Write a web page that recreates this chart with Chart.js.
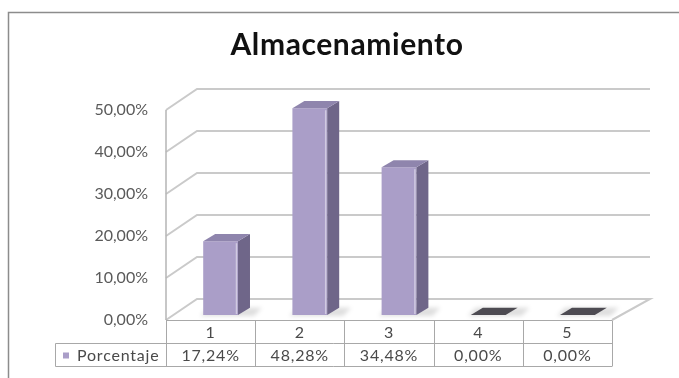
<!DOCTYPE html>
<html>
<head>
<meta charset="utf-8">
<title>Almacenamiento</title>
<script src="https://cdn.jsdelivr.net/npm/chart.js@4.4.1/dist/chart.umd.min.js"></script>
<style>
  html, body { margin: 0; padding: 0; background: #fff; }
</style>
</head>
<body>
<canvas id="almacen-chart" width="679" height="378"></canvas>
<script>
const categories = ['1', '2', '3', '4', '5'];
const porcentaje = [0.1724, 0.4828, 0.3448, 0, 0];
const yTicks = [0, 0.1, 0.2, 0.3, 0.4, 0.5];
const seriesName = 'Porcentaje';
const chartTitle = 'Almacenamiento';

const FONT = 'Lato, "Open Sans", sans-serif';
const BAR_FRONT = '#aa9ec8';
const BAR_SIDE = '#6f6689';
const BAR_TOP = '#8f85ad';

function pct(v) {
  return (v * 100).toFixed(2).replace('.', ',') + '%';
}

function line(ctx, x1, y1, x2, y2) {
  ctx.beginPath();
  ctx.moveTo(x1, y1);
  ctx.lineTo(x2, y2);
  ctx.stroke();
}

// outer frame and title
const frame = {
  id: 'frame',
  beforeDraw(chart) {
    const ctx = chart.ctx;
    ctx.save();
    ctx.fillStyle = '#fff';
    ctx.fillRect(0, 0, chart.width, chart.height);
    ctx.strokeStyle = '#8c8c8c';
    ctx.lineWidth = 1.5;
    ctx.beginPath();
    ctx.moveTo(8.5, chart.height);
    ctx.lineTo(8.5, 12.5);
    ctx.lineTo(chart.width, 12.5);
    ctx.stroke();
    ctx.fillStyle = '#111';
    ctx.font = 'bold 30px ' + FONT;
    ctx.letterSpacing = '0.6px';
    ctx.textAlign = 'center';
    ctx.textBaseline = 'middle';
    ctx.fillText(chartTitle, 347, 45);
    ctx.restore();
  }
};

// walls, floor and the depth faces of the columns
const scene3d = {
  id: 'scene3d',
  beforeDatasetsDraw(chart) {
    const { ctx, chartArea: a, scales: { y } } = chart;
    const backL = a.left + 31, backR = a.right + 38, dy = 21;
    ctx.save();
    ctx.strokeStyle = '#cacaca';
    ctx.lineWidth = 2;
    yTicks.forEach(v => {
      const py = y.getPixelForValue(v);
      ctx.beginPath();
      ctx.moveTo(a.left, py);
      ctx.lineTo(backL, py - dy);
      ctx.lineTo(backR, py - dy);
      if (v === 0) ctx.lineTo(a.right, py);
      ctx.stroke();
    });
    ctx.strokeStyle = '#b4b4b4';
    ctx.lineWidth = 1.5;
    line(ctx, a.left, y.getPixelForValue(0.5), a.left, a.bottom);
    ctx.restore();

    // columns stand halfway into the floor
    ctx.save();
    ctx.translate(10, a.bottom - 5);
    ctx.scale(1, 1.02);
    ctx.translate(0, -a.bottom);

    // soft floor shadows
    ctx.filter = 'blur(2px)';
    ctx.fillStyle = 'rgba(0,0,0,0.13)';
    chart.getDatasetMeta(0).data.forEach(bar => {
      const l = bar.x - bar.width / 2 - 3, r = bar.x + bar.width / 2 + 16, b = bar.base + 1;
      ctx.beginPath();
      ctx.moveTo(l, b);
      ctx.lineTo(r, b);
      ctx.lineTo(r + 8, b - 8);
      ctx.lineTo(l + 8, b - 8);
      ctx.closePath();
      ctx.fill();
    });
    ctx.filter = 'none';
  },
  afterDatasetsDraw(chart) {
    const ctx = chart.ctx;
    const sx = 12, sy = 7;
    chart.getDatasetMeta(0).data.forEach(bar => {
      const l = bar.x - bar.width / 2, r = bar.x + bar.width / 2;
      const t = bar.y, b = bar.base;
      const flat = b - t < 0.5;
      if (!flat) {
        ctx.fillStyle = BAR_SIDE;
        ctx.beginPath();
        ctx.moveTo(r, t);
        ctx.lineTo(r + sx, t - sy);
        ctx.lineTo(r + sx, b - sy);
        ctx.lineTo(r, b);
        ctx.closePath();
        ctx.fill();
        // light bevel on the front edge
        ctx.strokeStyle = 'rgba(255,255,255,0.45)';
        ctx.lineWidth = 1.5;
        line(ctx, r - 1.5, t + 2, r - 1.5, b - 1);
      }
      ctx.fillStyle = flat ? '#4d4b52' : BAR_TOP;
      ctx.beginPath();
      ctx.moveTo(l, t);
      ctx.lineTo(l + sx, t - sy);
      ctx.lineTo(r + sx, t - sy);
      ctx.lineTo(r, t);
      ctx.closePath();
      ctx.fill();
    });
    ctx.restore();
  }
};

// data table under the floor
const dataTable = {
  id: 'dataTable',
  afterDraw(chart) {
    const { ctx, chartArea: a, scales: { x } } = chart;
    const rowH = 23, top = Math.round(a.bottom) + 0.5, mid = top + rowH, bot = mid + rowH;
    const legL = 55.5;
    const colW = (a.right - a.left) / categories.length;
    ctx.save();
    ctx.strokeStyle = '#a8a8a8';
    ctx.lineWidth = 1;
    line(ctx, a.left, top, a.right, top);
    line(ctx, legL, mid, a.right, mid);
    line(ctx, legL, bot, a.right, bot);
    line(ctx, legL, mid, legL, bot);
    for (let i = 0; i <= categories.length; i++) {
      const px = Math.round(a.left + i * colW) + 0.5;
      line(ctx, px, top, px, bot);
    }
    ctx.fillStyle = '#4a4a4a';
    ctx.font = '16px ' + FONT;
    ctx.letterSpacing = '0.8px';
    ctx.textAlign = 'center';
    ctx.textBaseline = 'middle';
    categories.forEach((c, i) => {
      const cx = x.getPixelForValue(i);
      ctx.fillText(c, cx, top + rowH / 2 + 1);
      ctx.fillText(pct(porcentaje[i]), cx, mid + rowH / 2 + 1);
    });
    ctx.fillStyle = BAR_FRONT;
    ctx.fillRect(63, mid + 9, 6, 6);
    ctx.fillStyle = '#4a4a4a';
    ctx.textAlign = 'left';
    ctx.fillText(seriesName, 77, mid + rowH / 2 + 1);
    ctx.restore();
  }
};

const ctx = document.getElementById('almacen-chart').getContext('2d');
const almacenChart = new Chart(ctx, {
  type: 'bar',
  data: {
    labels: categories,
    datasets: [{
      label: seriesName,
      data: porcentaje,
      backgroundColor: BAR_FRONT,
      borderWidth: 0,
      categoryPercentage: 1,
      barPercentage: 0.39
    }]
  },
  options: {
    responsive: false,
    animation: false,
    layout: { padding: { left: 8, top: 110, right: 67, bottom: 58 } },
    plugins: {
      legend: { display: false },
      tooltip: { enabled: false },
      title: { display: false }
    },
    scales: {
      x: { display: false },
      y: {
        min: 0,
        max: 0.5,
        afterFit(scale) { scale.width = 158; },
        border: { display: false },
        grid: { display: false, drawTicks: false },
        ticks: {
          stepSize: 0.1,
          padding: 18,
          color: '#5a5a5a',
          font: { family: FONT, size: 16 },
          callback: v => pct(v)
        }
      }
    }
  },
  plugins: [frame, scene3d, dataTable]
});
</script>
</body>
</html>
